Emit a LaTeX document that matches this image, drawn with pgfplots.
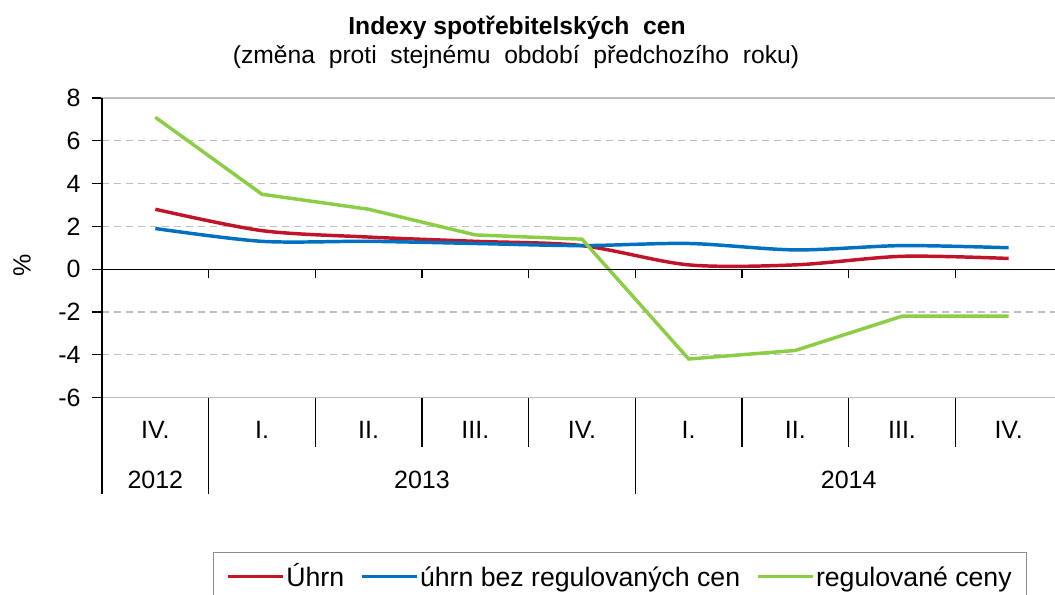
\documentclass[border=0pt]{standalone}
\usepackage{pgfplots}
\pgfplotsset{compat=1.18}
\usepackage{fontspec}
\setmainfont{Liberation Sans}
\definecolor{cred}{RGB}{192,20,40}
\definecolor{cblue}{RGB}{0,112,192}
\definecolor{cgreen}{RGB}{140,205,70}
\definecolor{cgrid}{RGB}{190,190,190}
\definecolor{cbox}{RGB}{140,140,140}
\newcommand{\lbl}{\fontsize{18.75}{21}\selectfont}
\begin{document}
\begin{tikzpicture}[x=0.75pt,y=0.75pt]
\node[anchor=base,font=\bfseries\fontsize{18.5}{20}\selectfont,inner sep=0] at (517,559) {Indexy spotřebitelských\ \ cen};
\node[anchor=base,font=\fontsize{18.5}{20}\selectfont,inner sep=0] at (516,530) {(změna\ \ proti\ \ stejnému\ \ období\ \ předchozího\ \ roku)};
\node[rotate=90,font=\lbl,inner sep=0] at (22,329) {\%};
\begin{axis}[
  at={(76.5pt,147.375pt)}, anchor=south west,
  scale only axis, width=720pt, height=224.625pt,
  xmin=-0.5, xmax=8.5, ymin=-6, ymax=8,
  xtick=\empty,
  ytick={-6,-4,...,8},
  yticklabels={-6,-4,-2,0,2,4,6,8},
  yticklabel style={font=\lbl, xshift=-5pt},
  tick align=outside, ytick pos=left,
  major tick length=7.5pt,
  tick style={black, line width=0.9pt},
  axis line style={cgrid, line width=0.9pt},
  ymajorgrids,
  grid style={cgrid, dash pattern=on 5.25pt off 3.75pt, line width=0.9pt},
  clip=false,
  legend columns=3,
  legend style={at={(0.1153,-0.5149)}, anchor=north west, draw=cbox, line width=0.9pt,
    font=\fontsize{20}{22}\selectfont, inner xsep=10pt, inner ysep=11.5pt,
    nodes={inner xsep=1pt, inner ysep=0pt, text height=14pt, text depth=4pt},
    /tikz/every even column/.append style={column sep=11pt}},
  legend image code/.code={\draw[#1, line width=2.6pt] (0pt,2.5pt) -- (41.25pt,2.5pt);},
]
\addplot[cred, line width=2.6pt, smooth] coordinates {(0,2.8)(1,1.8)(2,1.5)(3,1.3)(4,1.1)(5,0.2)(6,0.2)(7,0.6)(8,0.5)};
\addlegendentry{Úhrn}
\addplot[cblue, line width=2.6pt, smooth] coordinates {(0,1.9)(1,1.3)(2,1.3)(3,1.2)(4,1.1)(5,1.2)(6,0.9)(7,1.1)(8,1.0)};
\addlegendentry{úhrn bez regulovaných cen}
\addplot[cgreen, line width=2.6pt] coordinates {(0,7.1)(1,3.5)(2,2.8)(3,1.6)(4,1.4)(5,-4.2)(6,-3.8)(7,-2.2)(8,-2.2)};
\addlegendentry{regulované ceny}
% axis decorations
\draw[black, line width=0.9pt] (axis cs:-0.5,0) -- (axis cs:8.5,0);
\pgfplotsinvokeforeach{0.5,1.5,...,7.5}{
  \draw[black, line width=0.9pt] (axis cs:#1,0) -- ++(0pt,-6.75pt);
  \draw[black, line width=0.9pt] (axis cs:#1,-6) -- ++(0pt,-37pt);
}
\draw[black, line width=0.9pt] (axis cs:0.5,-6) -- ++(0pt,-72.4pt);
\draw[black, line width=0.9pt] (axis cs:4.5,-6) -- ++(0pt,-72.4pt);
\draw[black, line width=0.9pt] (axis cs:-0.5,8) -- (axis cs:-0.5,-6) -- ++(0pt,-72.4pt);
\node[anchor=base,font=\lbl] at (axis cs:0,-6) [yshift=-30.4pt] {IV.};
\node[anchor=base,font=\lbl] at (axis cs:1,-6) [yshift=-30.4pt] {I.};
\node[anchor=base,font=\lbl] at (axis cs:2,-6) [yshift=-30.4pt] {II.};
\node[anchor=base,font=\lbl] at (axis cs:3,-6) [yshift=-30.4pt] {III.};
\node[anchor=base,font=\lbl] at (axis cs:4,-6) [yshift=-30.4pt] {IV.};
\node[anchor=base,font=\lbl] at (axis cs:5,-6) [yshift=-30.4pt] {I.};
\node[anchor=base,font=\lbl] at (axis cs:6,-6) [yshift=-30.4pt] {II.};
\node[anchor=base,font=\lbl] at (axis cs:7,-6) [yshift=-30.4pt] {III.};
\node[anchor=base,font=\lbl] at (axis cs:8,-6) [yshift=-30.4pt] {IV.};
\node[anchor=base,font=\lbl] at (axis cs:0,-6) [yshift=-67.9pt] {2012};
\node[anchor=base,font=\lbl] at (axis cs:2.5,-6) [yshift=-67.9pt] {2013};
\node[anchor=base,font=\lbl] at (axis cs:6.5,-6) [yshift=-67.9pt] {2014};
\end{axis}
\pgfresetboundingbox
\useasboundingbox (0,0) rectangle (1055,594);
\end{tikzpicture}
\end{document}
